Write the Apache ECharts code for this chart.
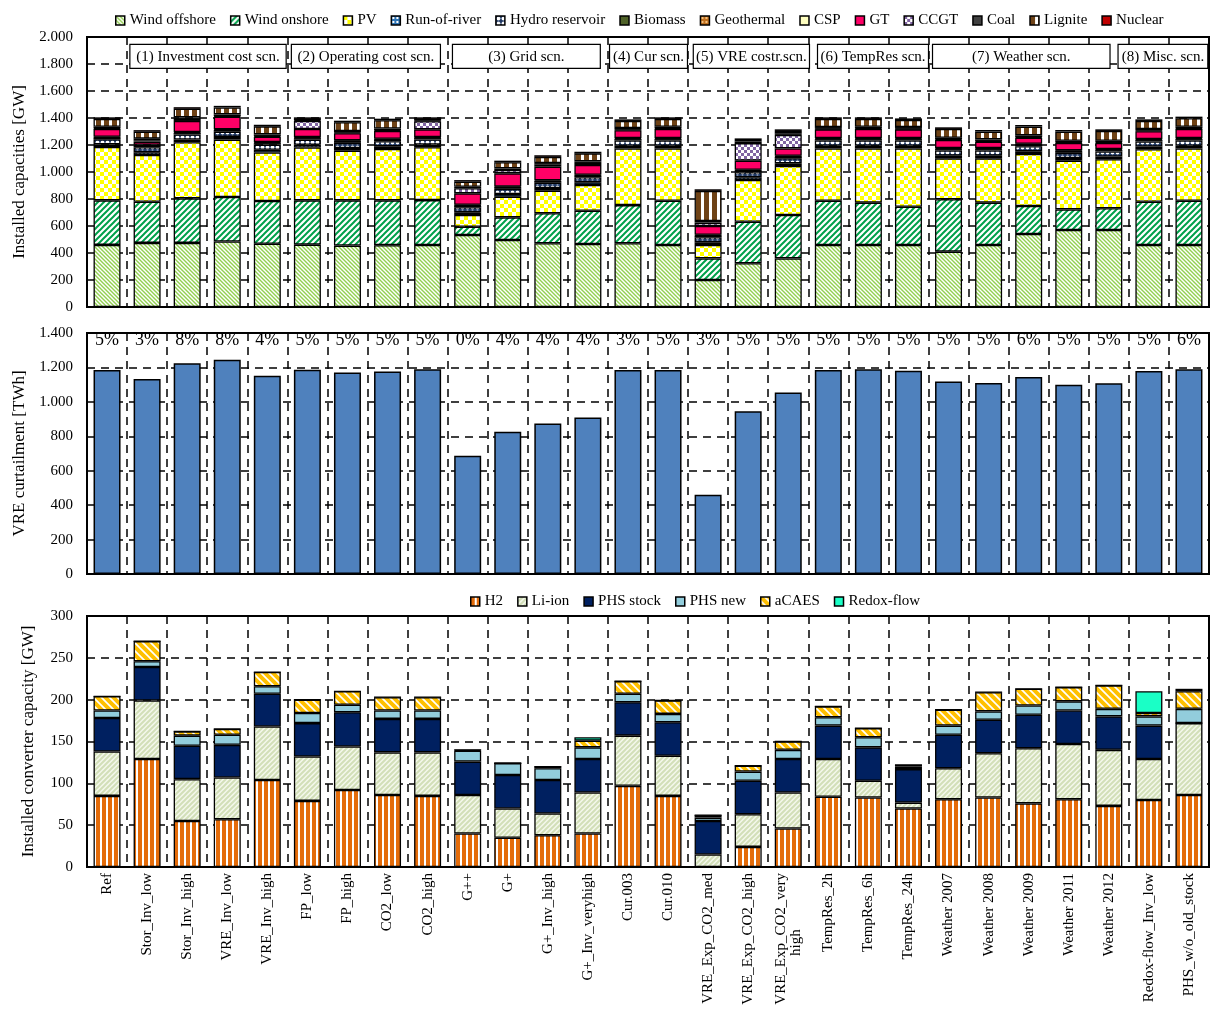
<!DOCTYPE html>
<html>
<head>
<meta charset="utf-8">
<script src="https://cdn.jsdelivr.net/npm/echarts@6/dist/echarts.min.js"></script>
<style>
  html, body { margin: 0; padding: 0; background: #fff; }
  #chart { width: 1211px; height: 1015px; }
</style>
</head>
<body>
<div id="chart"></div>
<script>
// ---------------- data ----------------
const categories = ['Ref', 'Stor_Inv_low', 'Stor_Inv_high', 'VRE_Inv_low', 'VRE_Inv_high', 'FP_low', 'FP_high',
  'CO2_low', 'CO2_high', 'G++', 'G+', 'G+_Inv_high', 'G+_Inv_veryhigh', 'Cur.003', 'Cur.010',
  'VRE_Exp_CO2_med', 'VRE_Exp_CO2_high', 'VRE_Exp_CO2_very high', 'TempRes_2h', 'TempRes_6h', 'TempRes_24h',
  'Weather 2007', 'Weather 2008', 'Weather 2009', 'Weather 2011', 'Weather 2012', 'Redox-flow_Inv_low', 'PHS_w/o_old_stock'];

// Installed generation capacities [GW]
const windOffshore   = [460, 475, 475, 485, 468, 462, 455, 458, 459, 533, 496, 472, 467, 472, 459, 200, 324, 360, 459, 459, 459, 410, 459, 541, 570, 570, 459, 459];
const windOnshore    = [330, 305, 330, 330, 317, 328, 335, 332, 333, 62, 168, 222, 246, 283, 328, 160, 308, 321, 328, 314, 284, 388, 314, 207, 153, 161, 321, 328];
const pv             = [395, 346, 415, 425, 360, 392, 368, 380, 391, 86, 153, 168, 191, 420, 388, 99, 309, 363, 388, 402, 432, 303, 328, 385, 361, 363, 388, 388];
const runOfRiver     = [20, 20, 20, 20, 20, 20, 20, 20, 20, 20, 20, 20, 20, 20, 20, 20, 20, 20, 20, 20, 20, 20, 20, 20, 20, 20, 20, 20];
const hydroReservoir = [38, 38, 38, 38, 38, 38, 38, 38, 38, 38, 38, 38, 38, 38, 38, 38, 38, 38, 38, 38, 38, 38, 38, 38, 38, 38, 38, 38];
const biomass        = [10, 10, 10, 10, 10, 10, 10, 10, 10, 10, 10, 10, 10, 10, 10, 10, 10, 10, 10, 10, 10, 10, 10, 10, 10, 10, 10, 10];
const geothermal     = [2, 2, 2, 2, 2, 2, 2, 2, 2, 2, 2, 2, 2, 2, 2, 2, 2, 2, 2, 2, 2, 2, 2, 2, 2, 2, 2, 2];
const csp            = [6, 6, 6, 6, 6, 6, 6, 6, 6, 6, 6, 6, 6, 6, 6, 6, 6, 6, 6, 6, 6, 6, 6, 6, 6, 6, 6, 6];
const gt             = [57, 23, 82, 94, 41, 60, 53, 59, 57, 85, 97, 101, 72, 58, 67, 65, 67, 55, 65, 67, 65, 60, 48, 45, 55, 45, 58, 67];
const ccgt           = [5, 10, 15, 5, 5, 60, 5, 5, 60, 38, 25, 15, 15, 5, 5, 25, 130, 100, 5, 5, 5, 5, 5, 5, 5, 5, 5, 5];
const coal           = [12, 12, 12, 12, 12, 5, 12, 12, 5, 10, 12, 12, 12, 12, 12, 12, 12, 12, 12, 12, 12, 12, 12, 12, 12, 12, 12, 12];
const lignite        = [58, 51, 63, 51, 59, 10, 64, 61, 12, 38, 45, 46, 59, 52, 58, 223, 11, 17, 60, 58, 52, 65, 57, 65, 67, 72, 59, 63];
const nuclear        = [12, 12, 12, 12, 12, 12, 12, 12, 12, 12, 12, 12, 12, 12, 12, 12, 12, 12, 12, 12, 12, 12, 12, 12, 12, 12, 12, 12];

// VRE curtailment [TWh] and its share
const curtailment  = [1185, 1133, 1225, 1244, 1152, 1187, 1171, 1177, 1190, 687, 827, 875, 909, 1185, 1185, 461, 945, 1054, 1185, 1189, 1181, 1118, 1110, 1144, 1099, 1108, 1179, 1190];
const curtailShare = ['5%', '3%', '8%', '8%', '4%', '5%', '5%', '5%', '5%', '0%', '4%', '4%', '4%', '3%', '5%', '3%', '5%', '5%', '5%', '5%', '5%', '5%', '5%', '6%', '5%', '5%', '5%', '6%'];

// Installed storage converter capacities [GW]
const h2        = [85, 129, 55, 57, 104, 79, 92, 86, 85, 40, 35, 38, 40, 97, 85, 0, 24, 46, 84, 83, 70, 81, 83, 76, 81, 73, 80, 86];
const liIon     = [53, 70, 50, 50, 64, 53, 52, 51, 52, 46, 35, 26, 49, 60, 48, 15, 39, 43, 45, 20, 7, 37, 53, 66, 66, 67, 49, 86];
const phsStock  = [40, 40, 40, 39, 39, 40, 41, 40, 40, 40, 40, 40, 40, 40, 40, 40, 40, 40, 40, 40, 40, 40, 40, 40, 40, 40, 40, 0];
const phsNew    = [9, 7, 12, 12, 9, 12, 9, 10, 10, 13, 14, 14, 14, 10, 10, 4, 11, 11, 10, 12, 3, 11, 10, 11, 11, 9, 11, 17];
const aCaes     = [17, 24, 5, 7, 17, 16, 16, 16, 16, 1, 0, 2, 8, 15, 16, 3, 7, 10, 13, 11, 2, 19, 23, 20, 17, 28, 4, 21];
const redoxFlow = [0, 0, 0, 0, 0, 0, 0, 0, 0, 0, 0, 0, 4, 0, 0, 0, 0, 0, 0, 0, 0, 0, 0, 0, 0, 0, 26, 3];

// Scenario groups: label, first and last category index
const scenarioLabels = ['(1) Investment cost scn.', '(2) Operating cost scn.', '(3) Grid scn.', '(4) Cur scn.',
  '(5) VRE costr.scn.', '(6) TempRes scn.', '(7) Weather scn.', '(8) Misc. scn.'];
const scenarioFirst = [1, 5, 9, 13, 15, 18, 21, 26];
const scenarioLast  = [4, 8, 12, 14, 17, 20, 25, 27];

// ---------------- layout of the scenario boxes (in category-width units) ----------------
const boxInsetLeft  = [0.07, 0.1, 0.12, 0.04, 0.13, 0.23, 0.1, -0.27];
const boxInsetRight = [0.03, 0.18, 0.19, 0.015, -0.03, 0.0, 0.47, 0.03];

// ---------------- fill patterns ----------------
function tile(w, h, draw) {
  const c = document.createElement('canvas');
  c.width = w; c.height = h;
  draw(c.getContext('2d'), w, h);
  return { image: c, repeat: 'repeat' };
}
function hatch(bg, fg, s, lw, forward) {
  return tile(s, s, (g) => {
    g.fillStyle = bg; g.fillRect(0, 0, s, s);
    g.strokeStyle = fg; g.lineWidth = lw; g.lineCap = 'square';
    g.beginPath();
    if (forward) {
      g.moveTo(0, s); g.lineTo(s, 0);
      g.moveTo(-s, s); g.lineTo(s, -s);
      g.moveTo(0, 2 * s); g.lineTo(2 * s, 0);
    } else {
      g.moveTo(0, 0); g.lineTo(s, s);
      g.moveTo(-s, 0); g.lineTo(s, 2 * s);
      g.moveTo(0, -s); g.lineTo(2 * s, s);
    }
    g.stroke();
  });
}
function checker(a, b, cell) {
  return tile(cell * 2, cell * 2, (g) => {
    g.fillStyle = b; g.fillRect(0, 0, cell * 2, cell * 2);
    g.fillStyle = a; g.fillRect(0, 0, cell, cell); g.fillRect(cell, cell, cell, cell);
  });
}
function vstripes(color, stripe, w, white) {
  return tile(w, 4, (g) => {
    g.fillStyle = color; g.fillRect(0, 0, w, 4);
    g.fillStyle = stripe; g.fillRect(w - white, 0, white, 4);
  });
}
function dots(bg, fg, s, r) {
  return tile(s, s, (g) => {
    g.fillStyle = bg; g.fillRect(0, 0, s, s);
    g.fillStyle = fg; g.beginPath(); g.arc(s / 2, s / 2, r, 0, Math.PI * 2); g.fill();
  });
}
function squares(bg, fg, s, q) {
  return tile(s, s, (g) => {
    g.fillStyle = bg; g.fillRect(0, 0, s, s);
    g.fillStyle = fg; g.fillRect((s - q) / 2, (s - q) / 2, q, q);
  });
}

const FONT = '"Liberation Serif", "Times New Roman", serif';
const BAR_W = 27;

function stackBar(name, data, color, axis, stack) {
  return {
    name, type: 'bar', stack, data, barWidth: BAR_W,
    xAxisIndex: axis, yAxisIndex: axis,
    itemStyle: { color, borderColor: '#000', borderWidth: 1.3 },
    emphasis: { disabled: true }
  };
}

const genSeries = [
  stackBar('Wind offshore', windOffshore, hatch('#ffffff', '#92d050', 4, 1.4, false), 0, 'gen'),
  stackBar('Wind onshore', windOnshore, hatch('#ffffff', '#00a04a', 6, 2, true), 0, 'gen'),
  stackBar('PV', pv, checker('#ffff00', '#ffffff', 4), 0, 'gen'),
  stackBar('Run-of-river', runOfRiver, squares('#2e75b6', '#ffffff', 4, 2), 0, 'gen'),
  stackBar('Hydro reservoir', hydroReservoir, dots('#1f3864', '#ffffff', 5, 1.9), 0, 'gen'),
  stackBar('Biomass', biomass, '#4f6228', 0, 'gen'),
  stackBar('Geothermal', geothermal, squares('#c0701e', '#f4c080', 4, 2), 0, 'gen'),
  stackBar('CSP', csp, '#ffffc0', 0, 'gen'),
  stackBar('GT', gt, '#ff0066', 0, 'gen'),
  stackBar('CCGT', ccgt, checker('#8064a2', '#ffffff', 3), 0, 'gen'),
  stackBar('Coal', coal, '#404040', 0, 'gen'),
  stackBar('Lignite', lignite, vstripes('#6e4216', '#ffffff', 8, 3), 0, 'gen'),
  stackBar('Nuclear', nuclear, '#c00000', 0, 'gen')
];

const storSeries = [
  stackBar('H2', h2, vstripes('#e46c0a', '#ffffff', 6, 2), 2, 'stor'),
  stackBar('Li-ion', liIon, hatch('#f4f8ec', '#d2dfb8', 5, 2, true), 2, 'stor'),
  stackBar('PHS stock', phsStock, '#002060', 2, 'stor'),
  stackBar('PHS new', phsNew, '#92cddc', 2, 'stor'),
  stackBar('aCAES', aCaes, hatch('#ffffff', '#ffc000', 8, 4, false), 2, 'stor'),
  stackBar('Redox-flow', redoxFlow, '#1affc6', 2, 'stor')
];

const thousands = (v) => (v >= 1000 ? String(v).replace(/(\d)(\d{3})$/, '$1.$2') : String(v));
const dashed = { show: true, interval: 0, lineStyle: { color: '#000', width: 1.5, type: [8, 6] } };

// long category names break after "very"; the second line is centred under the first
const NBSP = '\u00a0';
function categoryLabel(v) {
  if (v === 'VRE_Exp_CO2_very high') return 'VRE_Exp_CO2_very\nhigh' + NBSP.repeat(15);
  return v;
}

const grids = [
  { left: 87, right: 2, top: 37, height: 270 },
  { left: 87, right: 2, top: 333, height: 241 },
  { left: 87, right: 2, top: 616, height: 251 }
].map(g => Object.assign(g, { show: true, borderColor: '#000', borderWidth: 2, backgroundColor: 'transparent' }));

const xAxes = [0, 1, 2].map(i => ({
  type: 'category', gridIndex: i, data: categories,
  axisLine: { show: true, lineStyle: { color: '#000', width: 2 } },
  axisTick: { show: false },
  splitLine: dashed,
  axisLabel: i === 2 ? {
    show: true, interval: 0, rotate: 90, margin: 6, formatter: categoryLabel,
    fontFamily: FONT, fontSize: 15, color: '#000', lineHeight: 15
  } : { show: false }
}));

function yAxis(grid, max, interval, name, gap) {
  return {
    type: 'value', gridIndex: grid, min: 0, max, interval,
    name, nameLocation: 'middle', nameGap: gap, nameRotate: 90,
    nameTextStyle: { fontFamily: FONT, fontSize: 17, color: '#000' },
    axisLine: { show: true, lineStyle: { color: '#000', width: 2 } },
    axisTick: { show: false },
    splitLine: dashed,
    axisLabel: { fontFamily: FONT, fontSize: 15, color: '#000', margin: 14, formatter: thousands }
  };
}

const yAxes = [
  yAxis(0, 2000, 200, 'Installed capacities [GW]', 58),
  yAxis(1, 1400, 200, 'VRE curtailment [TWh]', 58),
  yAxis(2, 300, 50, 'Installed converter capacity [GW]', 50)
];

// value level (TWh) at which the curtailment share labels sit
const SHARE_LABEL_LEVEL = 1360;
// value range (GW) covered by the scenario boxes
const BOX_TOP = 1945, BOX_BOTTOM = 1767;

const scenarioBoxes = {
  type: 'custom', xAxisIndex: 0, yAxisIndex: 0, silent: true, clip: false, z: 10,
  data: scenarioLabels.map((s, i) => [scenarioFirst[i], BOX_TOP]),
  renderItem(params, api) {
    const i = params.dataIndex;
    const bw = api.size([1, 0])[0];
    const first = api.coord([scenarioFirst[i], 0])[0] - bw / 2;
    const last = api.coord([scenarioLast[i], 0])[0] + bw / 2;
    const x0 = first + boxInsetLeft[i] * bw;
    const x1 = last - boxInsetRight[i] * bw;
    const y0 = api.coord([0, BOX_TOP])[1];
    const y1 = api.coord([0, BOX_BOTTOM])[1];
    return {
      type: 'group',
      children: [
        { type: 'rect', shape: { x: x0, y: y0, width: x1 - x0, height: y1 - y0 },
          style: { fill: '#fff', stroke: '#000', lineWidth: 1.2 } },
        { type: 'text', style: { text: scenarioLabels[i], x: (x0 + x1) / 2, y: (y0 + y1) / 2 + 1,
          align: 'center', verticalAlign: 'middle', fontFamily: FONT, fontSize: 15, fill: '#000' } }
      ]
    };
  }
};

const shareLabels = {
  type: 'scatter', xAxisIndex: 1, yAxisIndex: 1, silent: true, z: 10,
  symbol: 'rect', symbolSize: 1, itemStyle: { color: 'rgba(0,0,0,0)' },
  data: curtailShare.map((s, i) => [i, SHARE_LABEL_LEVEL]),
  label: { show: true, position: 'inside', formatter: p => curtailShare[p.dataIndex],
           fontFamily: FONT, fontSize: 18, color: '#000', textBorderWidth: 0, opacity: 1 }
};

const curtailSeries = {
  name: 'VRE curtailment', type: 'bar', data: curtailment, barWidth: BAR_W,
  xAxisIndex: 1, yAxisIndex: 1,
  itemStyle: { color: '#4f81bd', borderColor: '#000', borderWidth: 1.5 }
};

const legendText = { fontFamily: FONT, fontSize: 15, color: '#000' };

const option = {
  animation: false,
  backgroundColor: '#fff',
  grid: grids,
  xAxis: xAxes,
  yAxis: yAxes,
  legend: [
    { data: genSeries.map(s => s.name), top: 8, left: 110, icon: 'rect', itemWidth: 9, itemHeight: 9,
      itemGap: 14, textStyle: legendText, selectedMode: false,
      itemStyle: { borderColor: '#000', borderWidth: 1.5 } },
    { data: storSeries.map(s => s.name), top: 589, left: 465, icon: 'rect', itemWidth: 9, itemHeight: 9,
      itemGap: 14, textStyle: legendText, selectedMode: false,
      itemStyle: { borderColor: '#000', borderWidth: 1.5 } }
  ],
  series: [...genSeries, scenarioBoxes, curtailSeries, shareLabels, ...storSeries]
};

const chart = echarts.init(document.getElementById('chart'), null, { renderer: 'canvas' });
chart.setOption(option);
</script>
</body>
</html>
